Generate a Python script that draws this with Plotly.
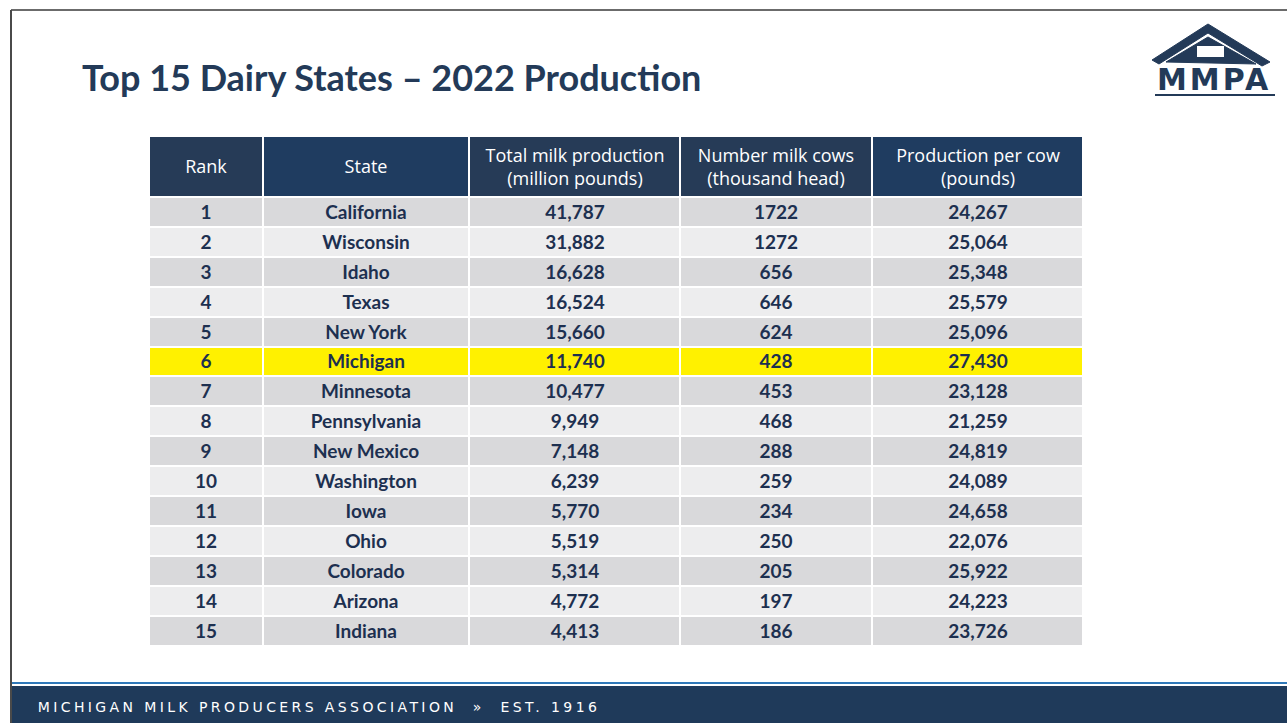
import plotly.graph_objects as go

# Datos de la tabla
rango = [1, 2, 3, 4, 5, 6, 7, 8, 9, 10, 11, 12, 13, 14, 15]
estados = ["California", "Wisconsin", "Idaho", "Texas", "New York", "Michigan",
           "Minnesota", "Pennsylvania", "New Mexico", "Washington", "Iowa",
           "Ohio", "Colorado", "Arizona", "Indiana"]
produccion_total = [41787, 31882, 16628, 16524, 15660, 11740, 10477, 9949,
                    7148, 6239, 5770, 5519, 5314, 4772, 4413]
numero_vacas = [1722, 1272, 656, 646, 624, 428, 453, 468, 288, 259, 234,
                250, 205, 197, 186]
produccion_por_vaca = [24267, 25064, 25348, 25579, 25096, 27430, 23128, 21259,
                       24819, 24089, 24658, 22076, 25922, 24223, 23726]
encabezados = ["Rank", "State", "Total milk production<br>(million pounds)",
               "Number milk cows<br>(thousand head)", "Production per cow<br>(pounds)"]
resaltado = "Michigan"

ANCHO = 1287
ALTO = 723
AZUL = '#233a58'

# Bordes de las columnas y filas (en pixeles de la diapositiva)
bordes_x = [149, 263, 469, 680, 872, 1083]
alto_fila = 29.9
inicio_filas = 197


def tabla_lecheria():
    # Crea una figura
    fig = go.Figure()

    # Codigo de color por fila: 0 gris, 1 gris claro, 2 amarillo
    codigos = []
    for i, estado in enumerate(estados):
        if estado == resaltado:
            codigos.append([2] * 5)
        else:
            codigos.append([i % 2] * 5)

    textos = []
    for i in range(len(rango)):
        textos.append([f'<b>{rango[i]}</b>',
                       f'<b>{estados[i]}</b>',
                       f'<b>{produccion_total[i]:,}</b>',
                       f'<b>{numero_vacas[i]}</b>',
                       f'<b>{produccion_por_vaca[i]:,}</b>'])

    bordes_y = [inicio_filas + alto_fila * k for k in range(len(rango) + 1)]

    # Encabezado de la tabla
    fig.add_trace(go.Heatmap(
        x=bordes_x,
        y=[137, inicio_filas - 1],
        z=[[0, 1, 0, 0, 1]],
        text=[encabezados],
        texttemplate='%{text}',
        textfont=dict(family='Open Sans', size=18, color='white'),
        colorscale=[[0, '#263b57'], [1, '#1f3c60']],
        zmin=0, zmax=1,
        xgap=2, ygap=0,
        showscale=False,
        hoverinfo='skip',
    ))

    # Filas de datos
    fig.add_trace(go.Heatmap(
        x=bordes_x,
        y=bordes_y,
        z=codigos,
        text=textos,
        texttemplate='%{text}',
        textfont=dict(family='Lato', size=19, color='#1d3050'),
        colorscale=[[0, '#d9d9db'], [0.5, '#ededee'], [1, '#fff100']],
        zmin=0, zmax=2,
        xgap=2, ygap=2,
        showscale=False,
        hoverinfo='skip',
    ))

    # Titulo de la diapositiva
    fig.add_annotation(text='<b>Top 15 Dairy States \u2013 2022 Production</b>',
                       x=80, y=77, xanchor='left', yanchor='middle', showarrow=False,
                       font=dict(family='Lato', size=36, color=AZUL))

    # Marco de la diapositiva
    fig.add_shape(type='line', x0=11, y0=10, x1=ANCHO, y1=10,
                  line=dict(color='#6b6b6b', width=2))
    fig.add_shape(type='line', x0=11, y0=10, x1=11, y1=ALTO,
                  line=dict(color='#4a4a4a', width=2))

    # Pie de pagina
    fig.add_shape(type='line', x0=12, y0=683, x1=ANCHO, y1=683,
                  line=dict(color='#2f78b8', width=2))
    fig.add_shape(type='rect', x0=12, y0=686, x1=ANCHO, y1=ALTO,
                  fillcolor='#1f3a5a', line=dict(width=0))
    fig.add_annotation(text='MICHIGAN MILK PRODUCERS ASSOCIATION  \u00bb  EST. 1916',
                       x=319, y=707, xanchor='center', yanchor='middle', showarrow=False,
                       font=dict(family='DejaVu Sans', size=14, color='white'))

    # Logo MMPA (techo de granero)
    fig.add_shape(type='path',
                  path='M 1152,60 L 1208,24 L 1270,62 L 1262,66 L 1208,33 L 1159,64 Z',
                  fillcolor=AZUL, line=dict(color=AZUL, width=1))
    fig.add_shape(type='path', path='M 1166,62 L 1208,37 L 1256,64 Z',
                  fillcolor=AZUL, line=dict(color=AZUL, width=1))
    fig.add_shape(type='rect', x0=1197, y0=46, x1=1224, y1=57,
                  fillcolor='white', line=dict(width=0))
    fig.add_annotation(text='<b>MMPA</b>',
                       x=1214, y=79, xanchor='center', yanchor='middle', showarrow=False,
                       font=dict(family='DejaVu Sans', size=30, color=AZUL))
    fig.add_shape(type='line', x0=1155, y0=95, x1=1275, y1=95,
                  line=dict(color=AZUL, width=2))

    fig.update_layout(
        width=ANCHO,
        height=ALTO,
        margin=dict(l=0, r=0, t=0, b=0),
        paper_bgcolor='white',
        plot_bgcolor='white',
        xaxis=dict(range=[0, ANCHO], domain=[0, 1], visible=False, fixedrange=True),
        yaxis=dict(range=[ALTO, 0], domain=[0, 1], visible=False, fixedrange=True),
    )
    return fig


# Ajustes de pagina: sin margen y con espaciado de letras del pie y logo
ajustes_js = """
document.body.style.margin = '0';
document.querySelectorAll('.annotation-text').forEach(function (t) {
    if (t.textContent.indexOf('MICHIGAN') === 0) { t.style.letterSpacing = '3.4px'; }
    if (t.textContent === 'MMPA') { t.style.letterSpacing = '3px'; }
});
"""

fig = tabla_lecheria()
fig.write_html("out.html", post_script=ajustes_js, config={'displayModeBar': False})
